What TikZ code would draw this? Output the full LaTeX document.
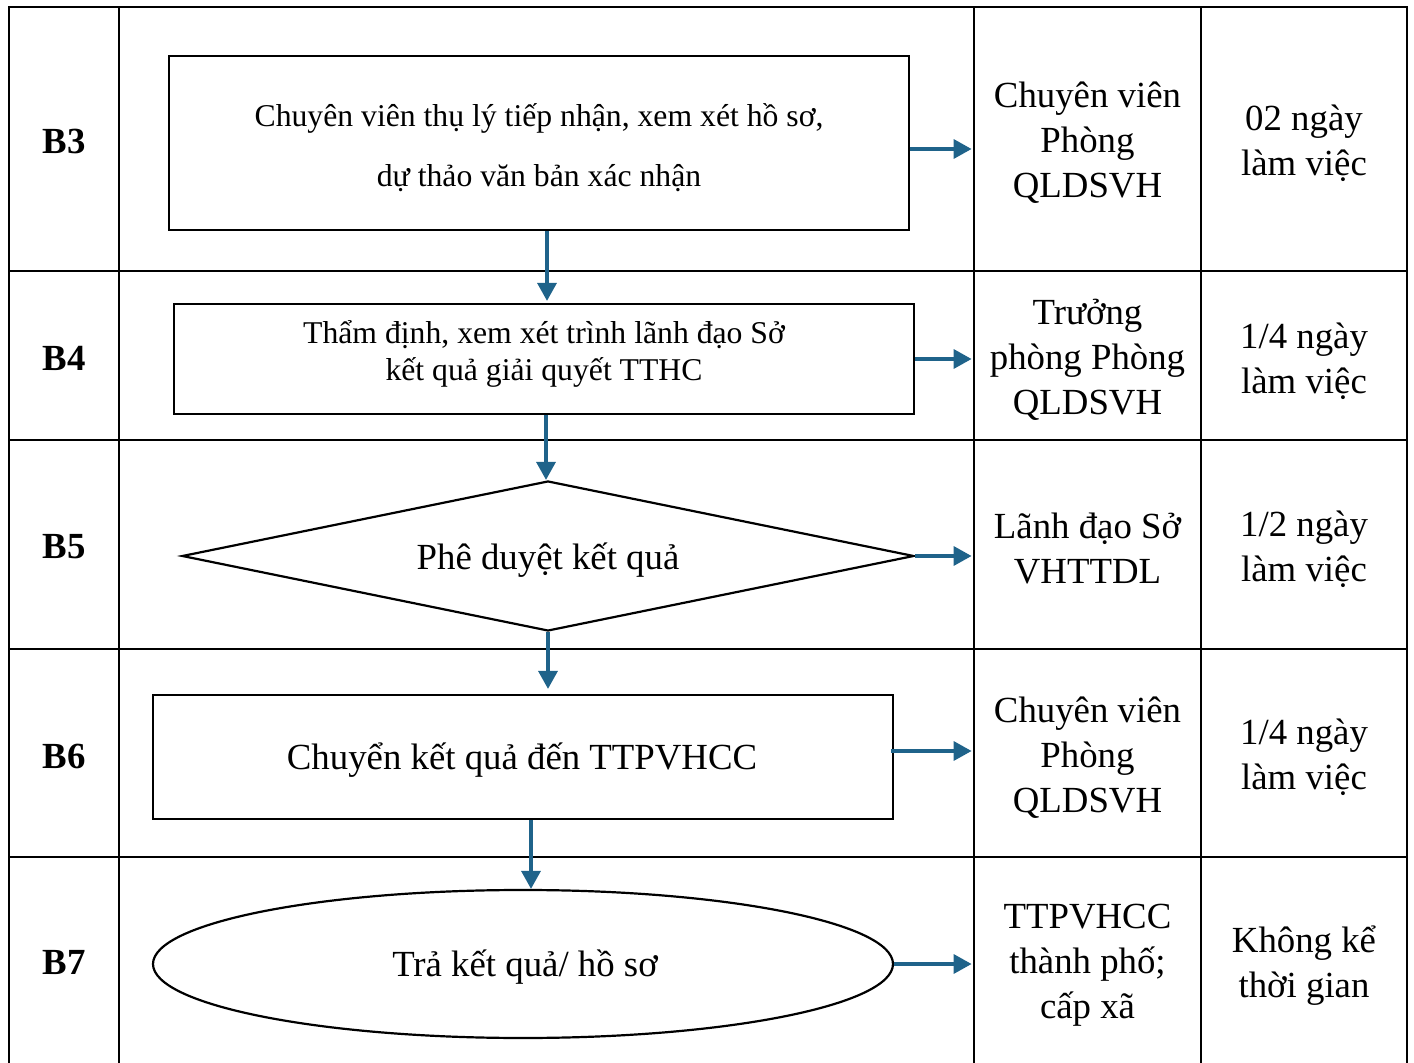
\documentclass[tikz,border=0pt]{standalone}
\usepackage{fontspec}
\setmainfont{Liberation Serif}
\usetikzlibrary{shapes.geometric,arrows.meta,calc}
\definecolor{arrblue}{RGB}{31,99,138}
\begin{document}
\begin{tikzpicture}[x=0.5pt,y=-0.5pt,
  grid/.style={line width=1.4pt},
  box/.style={draw,line width=1.1pt,minimum width=370pt,inner sep=0pt},
  bigtxt/.style={font=\fontsize{18.4}{22.5}\selectfont,align=center},
  smalltxt/.style={font=\fontsize{15.85}{18.5}\selectfont,align=center},
  steplbl/.style={font=\fontsize{18.4}{22.5}\selectfont\bfseries},
  cellc/.style={bigtxt,minimum width=113.5pt,inner sep=0pt},
  arr/.style={draw=arrblue,line width=1.7pt,shorten >=1pt,-{Triangle[length=9pt,width=9.5pt]}}
]
\useasboundingbox (0,0) rectangle (1414,1063);
% table
\draw[grid] (9,1063) -- (9,7) -- (1407,7) -- (1407,1063);
\foreach \xx in {119,974,1201} \draw[grid] (\xx,7) -- (\xx,1063);
\foreach \yy in {271,440,649,857} \draw[grid] (9,\yy) -- (1407,\yy);
% step labels
\node[steplbl] (s3) at (64,142) {B3};
\node[steplbl] (s4) at (64,358) {B4};
\node[steplbl] (s5) at (64,547) {B5};
\node[steplbl] (s6) at (64,756) {B6};
\node[steplbl] (s7) at (64,963) {B7};
% flow shapes
\node[box,minimum height=87pt] (b3) at (539,143) {};
\node[font=\fontsize{15.85}{30}\selectfont,align=center] (b3t) at (539,148)
  {Chuyên viên thụ lý tiếp nhận, xem xét hồ sơ,\\dự thảo văn bản xác nhận};
\node[box,minimum height=55pt] (b4) at (544,359) {};
\node[smalltxt] (b4t) at (544,354) {Thẩm định, xem xét trình lãnh đạo Sở\\kết quả giải quyết TTHC};
\node[draw,diamond,aspect=4.88,line width=1.1pt,minimum width=366pt,minimum height=75pt,inner sep=0pt] (b5) at (548,556) {};
\node[bigtxt] (b5t) at (548,560) {Phê duyệt kết quả};
\node[box,minimum height=62pt] (b6) at (523,757) {};
\node[bigtxt] (b6t) at (522,760) {Chuyển kết quả đến TTPVHCC};
\node[draw,ellipse,line width=1.1pt,minimum width=370pt,minimum height=74pt,inner sep=0pt] (b7) at (523,964) {};
\node[bigtxt] (b7t) at (525,967) {Trả kết quả/ hồ sơ};
% column 3
\node[cellc] (r3c) at (1087.5,143) {Chuyên viên\\Phòng\\QLDSVH};
\node[cellc] (r4c) at (1087.5,360) {Trưởng\\phòng Phòng\\QLDSVH};
\node[cellc] (r5c) at (1087.5,549) {Lãnh đạo Sở\\VHTTDL};
\node[cellc] (r6c) at (1087.5,758) {Chuyên viên\\Phòng\\QLDSVH};
\node[cellc] (r7c) at (1087.5,965) {TTPVHCC\\thành phố;\\cấp xã};
% column 4
\node[cellc] (r3d) at (1304,143) {02 ngày\\làm việc};
\node[cellc] (r4d) at (1304,361) {1/4 ngày\\làm việc};
\node[cellc] (r5d) at (1304,549) {1/2 ngày\\làm việc};
\node[cellc] (r6d) at (1304,757) {1/4 ngày\\làm việc};
\node[cellc] (r7d) at (1304,966) {Không kể\\thời gian};
% arrows right
\draw[arr] ($(b3.east)+(0,6)$) -- ($(b3.east -| r3c.west)+(0,6)$);
\draw[arr] (b4.east) -- (b4.east -| r4c.west);
\draw[arr] (b5.east) -- (b5.east -| r5c.west);
\draw[arr] ($(b6.east)+(-3,-6)$) -- ($(b6.east -| r6c.west)+(0,-6)$);
\draw[arr] (b7.east) -- (b7.east -| r7c.west);
% arrows down
\draw[arr] ($(b3.south)+(8,0)$) -- ($(b4.north)+(3,0)$);
\draw[arr] ($(b4.south)+(2,0)$) -- ($(b5.north)+(-2,2)$);
\draw[arr] (b5.south) -- ($(b5.south |- b6.north)+(0,-3)$);
\draw[arr] ($(b6.south)+(8,0)$) -- ($(b7.north)+(8,2)$);
\end{tikzpicture}
\end{document}
